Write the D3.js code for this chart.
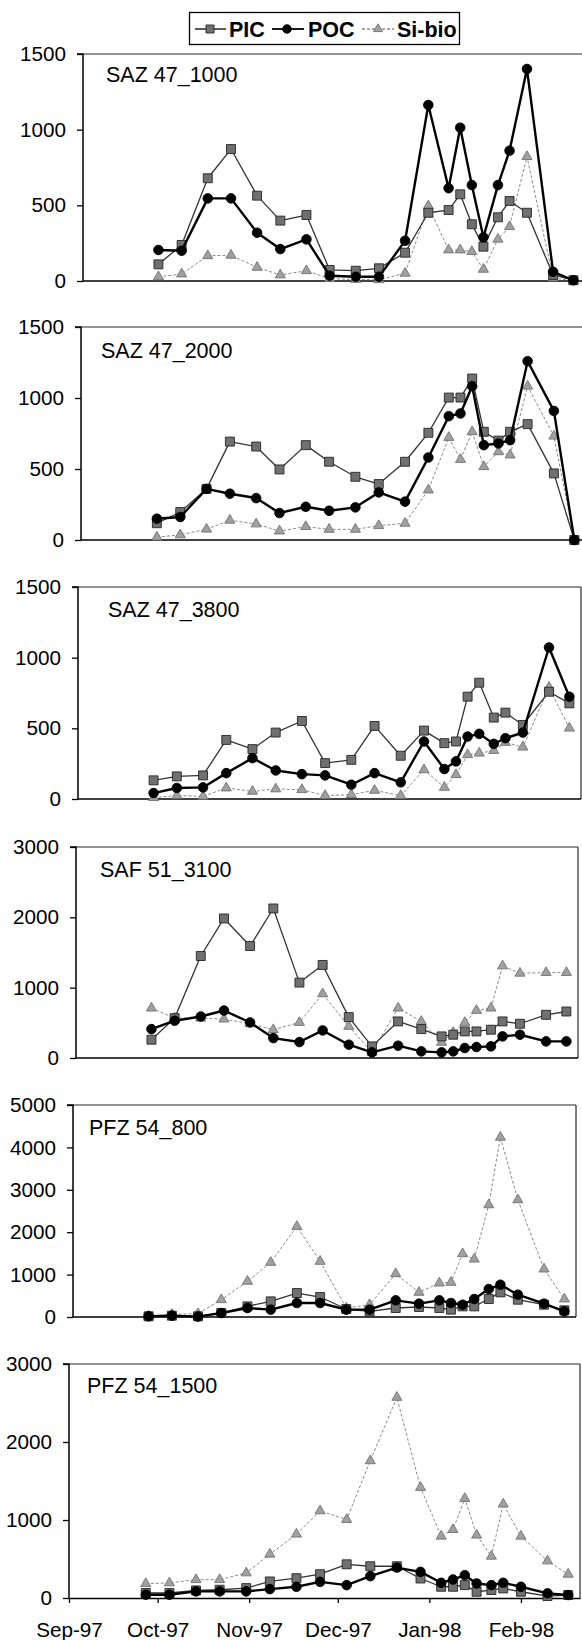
<!DOCTYPE html>
<html>
<head>
<meta charset="utf-8">
<script src="https://cdn.jsdelivr.net/npm/d3@7"></script>
<style>
  html, body { margin: 0; padding: 0; background: #fff; }
  svg { display: block; }
  text { font-family: "Liberation Sans", Arial, Helvetica, sans-serif; fill: #000; }
</style>
</head>
<body>
<svg id="chart" width="582" height="1640"></svg>
<script>
// ---------------- DATA ----------------
const sampleDates = ["1997-09-27","1997-10-05","1997-10-14","1997-10-22","1997-10-31","1997-11-08",
  "1997-11-17","1997-11-25","1997-12-04","1997-12-12","1997-12-21","1997-12-29","1998-01-05",
  "1998-01-09","1998-01-13","1998-01-17","1998-01-22","1998-01-26","1998-02-01","1998-02-10","1998-02-17"];

const panelNames = ["SAZ 47_1000", "SAZ 47_2000", "SAZ 47_3800", "SAF 51_3100", "PFZ 54_800", "PFZ 54_1500"];
const yMaxes = [1500, 1500, 1500, 3000, 5000, 3000];
const yTickSteps = [500, 500, 500, 1000, 1000, 1000];

const xTickDates = ["1997-09-01","1997-10-01","1997-11-01","1997-12-01","1998-01-01","1998-02-01"];
const xTickLabels = ["Sep-97","Oct-97","Nov-97","Dec-97","Jan-98","Feb-98"];

const seriesNames = ["PIC", "POC", "Si-bio"];

const picSAZ1000 = [110,238,679,872,564,399,436,73,68,84,187,451,469,573,375,227,421,529,451,40,5];
const pocSAZ1000 = [205,200,546,546,319,211,275,35,28,28,266,1163,613,1013,634,289,634,861,1401,61,5];
const siSAZ1000  = [28,46,167,170,90,40,68,15,10,8,51,496,205,205,194,77,276,359,822,20,0];

const picSAZ2000 = [118,197,360,693,658,497,668,551,445,394,551,755,1003,1003,1137,762,700,762,816,469,0];
const pocSAZ2000 = [150,162,360,326,295,190,234,206,230,335,270,581,872,891,1083,668,680,703,1259,909,0];
const siSAZ2000  = [20,36,76,139,113,63,94,75,75,101,117,352,722,567,762,516,621,598,1083,731,0];

const picSAZ3800 = [132,160,167,418,353,470,552,254,277,517,306,484,395,407,724,823,576,611,524,759,677];
const pocSAZ3800 = [42,78,82,183,289,202,176,167,101,183,118,407,212,266,442,461,390,430,470,1072,724];
const siSAZ3800  = [10,24,19,78,54,71,66,24,31,61,24,207,82,172,313,324,343,400,367,790,501];

const picSAF3100 = [260,567,1450,1984,1592,2126,1072,1323,581,165,520,411,307,331,378,378,402,520,487,614,661];
const pocSAF3100 = [411,530,590,675,505,283,227,392,189,80,175,94,80,94,142,156,165,307,331,236,236];
const siSAF3100  = [709,567,567,553,487,402,505,912,449,80,709,520,222,364,505,676,709,1309,1205,1214,1214];

const picPFZ800 = [16,31,16,94,251,369,565,471,188,133,212,236,212,173,251,251,424,581,408,290,157];
const pocPFZ800 = [16,31,10,94,212,173,330,330,173,173,393,314,393,330,290,424,659,761,526,314,133];
const siPFZ800  = [16,60,78,408,840,1287,2135,1311,212,290,1020,581,800,816,1491,1365,2645,4239,2763,1130,424];

const picPFZ1500 = [64,64,97,106,127,212,254,305,432,407,407,250,144,144,165,80,102,123,80,25,38];
const pocPFZ1500 = [42,42,85,85,85,114,144,207,165,280,390,335,195,237,292,186,165,195,144,59,38];
const siPFZ1500  = [184,193,235,235,321,561,818,1117,1006,1759,2572,1417,792,877,1275,805,535,1203,792,475,304];

const panelSeries = [
  [picSAZ1000, pocSAZ1000, siSAZ1000],
  [picSAZ2000, pocSAZ2000, siSAZ2000],
  [picSAZ3800, pocSAZ3800, siSAZ3800],
  [picSAF3100, pocSAF3100, siSAF3100],
  [picPFZ800, pocPFZ800, siPFZ800],
  [picPFZ1500, pocPFZ1500, siPFZ1500]
];

// ---------------- LAYOUT ----------------
const panelTops    = [54, 327, 587, 847, 1105, 1364];
const panelBottoms = [281, 540, 799, 1058, 1317, 1598];
const panelLefts   = [83, 81, 78, 76, 73, 69];
const panelRights  = [585, 586, 581, 578, 576, 580];
const labelXs = [106, 101, 108, 100, 89, 87];
const labelYs = [82, 358, 617, 877, 1135, 1393];

const parse = d3.utcParse("%Y-%m-%d");
const dates = sampleDates.map(parse);
const xDomain = [parse("1997-09-01"), parse("1998-02-21")];

const svg = d3.select("#chart");

const styles = [
  { line: "#333", width: 1.3, dash: null, sym: d3.symbolSquare, size: 80, fill: "#707070", stroke: "#262626" },
  { line: "#000", width: 2.4, dash: null, sym: d3.symbolCircle, size: 72, fill: "#000", stroke: "#000" },
  { line: "#8a8a8a", width: 1.0, dash: "3,2", sym: d3.symbolTriangle, size: 44, fill: "#a0a0a0", stroke: "#727272" }
];
const drawOrder = [2, 0, 1];

panelNames.forEach((name, i) => {
  const x = d3.scaleUtc().domain(xDomain).range([panelLefts[i], panelRights[i]]);
  const y = d3.scaleLinear().domain([0, yMaxes[i]]).range([panelBottoms[i], panelTops[i]]);
  const g = svg.append("g");

  // frame (top + right)
  g.append("line").attr("x1", panelLefts[i]).attr("x2", panelRights[i])
    .attr("y1", panelTops[i]).attr("y2", panelTops[i])
    .attr("stroke", "#2a2a2a").attr("stroke-width", 1.2);
  g.append("line").attr("x1", panelRights[i]).attr("x2", panelRights[i])
    .attr("y1", panelTops[i]).attr("y2", panelBottoms[i])
    .attr("stroke", "#2a2a2a").attr("stroke-width", 1.2);

  // y axis
  const ticks = d3.range(0, yMaxes[i] + 1, yTickSteps[i]);
  const yAxis = d3.axisLeft(y).tickValues(ticks).tickFormat(d3.format("d")).tickSize(6).tickPadding(11);
  const ya = g.append("g").attr("transform", `translate(${panelLefts[i]},0)`).call(yAxis);
  ya.select(".domain").attr("stroke", "#000").attr("stroke-width", 1.5).attr("d", `M-6,${panelTops[i]}H0V${panelBottoms[i]}`);
  ya.selectAll(".tick line").attr("stroke", "#000").attr("stroke-width", 1.3);
  ya.selectAll("text").style("font-size", "20.7px").attr("fill", "#000");

  // x axis
  if (i === panelNames.length - 1) {
    const xAxis = d3.axisBottom(x).tickValues(xTickDates.map(parse))
      .tickFormat((d, k) => xTickLabels[k]).tickSize(5).tickPadding(19).tickSizeOuter(0);
    const xa = g.append("g").attr("transform", `translate(0,${panelBottoms[i]})`).call(xAxis);
    xa.select(".domain").attr("stroke", "#000").attr("stroke-width", 1.5);
    xa.selectAll(".tick line").attr("stroke", "#000").attr("stroke-width", 1.3);
    xa.selectAll("text").style("font-size", "20.7px").attr("fill", "#000");
  } else {
    g.append("line").attr("x1", panelLefts[i]).attr("x2", panelRights[i])
      .attr("y1", panelBottoms[i]).attr("y2", panelBottoms[i])
      .attr("stroke", "#000").attr("stroke-width", 1.5);
  }

  // panel label
  g.append("text").attr("x", labelXs[i]).attr("y", labelYs[i])
    .style("font-size", "21.5px").text(name);

  // series
  const lineGen = d3.line().x((d, k) => x(dates[k])).y(d => y(d));
  drawOrder.forEach(s => {
    const vals = panelSeries[i][s];
    const st = styles[s];
    g.append("path").datum(vals).attr("d", lineGen)
      .attr("fill", "none").attr("stroke", st.line).attr("stroke-width", st.width)
      .attr("stroke-dasharray", st.dash).attr("stroke-linejoin", "round");
    g.selectAll(null).data(vals).join("path")
      .attr("transform", (d, k) => `translate(${x(dates[k])},${y(d)})`)
      .attr("d", d3.symbol().type(st.sym).size(st.size))
      .attr("fill", st.fill).attr("stroke", st.stroke).attr("stroke-width", 0.9);
  });
});

// ---------------- LEGEND ----------------
const lg = svg.append("g");
lg.append("rect").attr("x", 189.5).attr("y", 12.5).attr("width", 270).attr("height", 32)
  .attr("fill", "#fff").attr("stroke", "#000").attr("stroke-width", 1.3);
const legendItems = [
  { x1: 195, x2: 226, mx: 210, tx: 229 },
  { x1: 272, x2: 304, mx: 287, tx: 308 },
  { x1: 362, x2: 394, mx: 378, tx: 397 }
];
legendItems.forEach((it, s) => {
  const st = styles[s];
  lg.append("line").attr("x1", it.x1).attr("x2", it.x2).attr("y1", 29).attr("y2", 29)
    .attr("stroke", s === 1 ? "#000" : st.line).attr("stroke-width", s === 1 ? 1.8 : 1.6)
    .attr("stroke-dasharray", st.dash);
  lg.append("path").attr("transform", `translate(${it.mx},29)`)
    .attr("d", d3.symbol().type(st.sym).size(st.size * 0.8))
    .attr("fill", st.fill).attr("stroke", st.stroke).attr("stroke-width", 0.9);
  lg.append("text").attr("x", it.tx).attr("y", 37).style("font-size", "21.5px")
    .style("font-weight", "bold").text(seriesNames[s]);
});
</script>
</body>
</html>
